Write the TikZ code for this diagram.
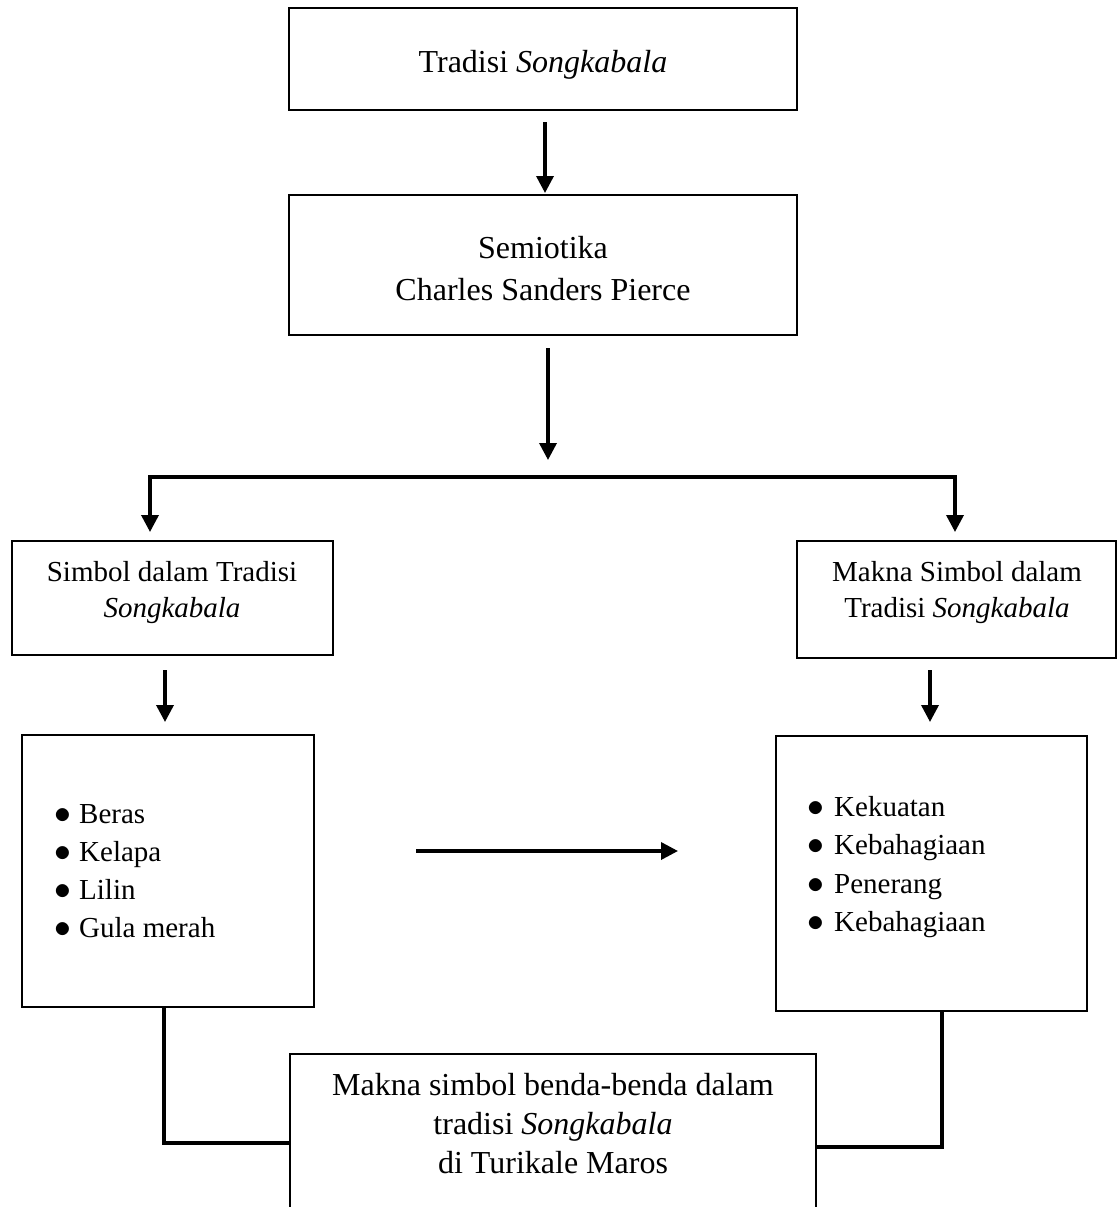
\documentclass[tikz,border=0pt]{standalone}
\usepackage{graphicx}
\usepackage{fontspec}
\setmainfont{Liberation Serif}
\usetikzlibrary{arrows.meta}
\newcommand{\bul}{\scalebox{1.35}{$\bullet$}}
\begin{document}
\begin{tikzpicture}[x=1pt,y=-1pt,
  box/.style={draw, line width=2pt, inner sep=0pt},
  big/.style={font=\fontsize{32}{40}\selectfont, inner sep=0pt, anchor=base},
  small/.style={font=\fontsize{29}{38}\selectfont, inner sep=0pt, anchor=base},
  item/.style={small, anchor=base west},
  arr/.style={line width=3.5pt, -{Triangle[length=17pt,width=17pt]}},
  conn/.style={line width=3.5pt},
]
\useasboundingbox (0,0) rectangle (1117,1207);
\clip (0,0) rectangle (1117,1207);

% boxes
\node[box, minimum width=508pt, minimum height=102pt] (top) at (543,59) {};
\node[box, minimum width=508pt, minimum height=140pt] (sem) at (543,265) {};
\node[box, minimum width=321pt, minimum height=114pt] (sym) at (172.5,598) {};
\node[box, minimum width=319pt, minimum height=117pt] (mak) at (956.5,599.5) {};
\node[box, minimum width=292pt, minimum height=272pt] (lbox) at (168,871) {};
\node[box, minimum width=311pt, minimum height=275pt] (rbox) at (931.5,873.5) {};
\node[box, minimum width=526pt, minimum height=186pt] (bot) at (553,1147) {};

% texts
\node[big] (t1) at (543,72) {Tradisi \textit{Songkabala}};
\node[big] (t2) at (543,258) {Semiotika};
\node[big] (t3) at (543,300) {Charles Sanders Pierce};
\node[small] (t4) at (172,581) {Simbol dalam Tradisi};
\node[small] (t5) at (172,617) {\textit{Songkabala}};
\node[small] (t6) at (957,581) {Makna Simbol dalam};
\node[small] (t7) at (957,617) {Tradisi \textit{Songkabala}};

\node[item] (l1) at (54,823) {\makebox[25pt][l]{\bul}Beras};
\node[item] (l2) at (54,861) {\makebox[25pt][l]{\bul}Kelapa};
\node[item] (l3) at (54,899) {\makebox[25pt][l]{\bul}Lilin};
\node[item] (l4) at (54,937) {\makebox[25pt][l]{\bul}Gula merah};

\node[item] (r1) at (807,816) {\makebox[27pt][l]{\bul}Kekuatan};
\node[item] (r2) at (807,854) {\makebox[27pt][l]{\bul}Kebahagiaan};
\node[item] (r3) at (807,893) {\makebox[27pt][l]{\bul}Penerang};
\node[item] (r4) at (807,931) {\makebox[27pt][l]{\bul}Kebahagiaan};

\node[big] (b1) at (553,1095) {Makna simbol benda-benda dalam};
\node[big] (b2) at (553,1134) {tradisi \textit{Songkabala}};
\node[big] (b3) at (553,1173) {di Turikale Maros};

% coordinates
\coordinate (a1s) at (545,122);
\coordinate (a1e) at (545,193);
\coordinate (a2s) at (548,348);
\coordinate (a2e) at (548,460);
\coordinate (mid) at (548,477);
\coordinate (blt) at (150,532);
\coordinate (brt) at (955,532);
\coordinate (al1) at (165,670);
\coordinate (al2) at (165,722);
\coordinate (ar1) at (930,670);
\coordinate (ar2) at (930,722);
\coordinate (ha1) at (416,851);
\coordinate (ha2) at (678,851);
\coordinate (jl) at (290,1143);
\coordinate (jr) at (816,1147);

% connectors
\draw[arr] (a1s) -- (a1e);
\draw[arr] (a2s) -- (a2e);
\draw[arr] (mid) -| (blt);
\draw[arr] (mid) -| (brt);
\draw[arr] (al1) -- (al2);
\draw[arr] (ar1) -- (ar2);
\draw[arr] (ha1) -- (ha2);
\draw[conn] ([xshift=-4pt]lbox.south) |- (jl);
\draw[conn] ([xshift=10.5pt]rbox.south) |- (jr);
\end{tikzpicture}
\end{document}
